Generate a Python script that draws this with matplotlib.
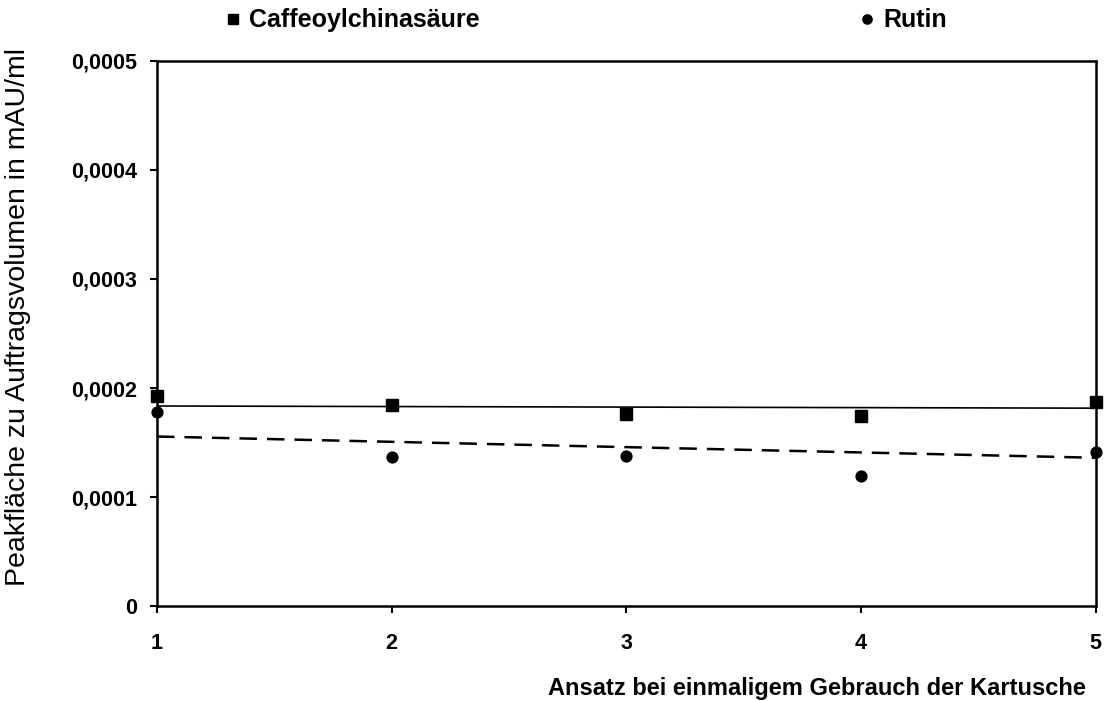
import matplotlib.pyplot as plt
from matplotlib.ticker import FuncFormatter

plt.rcParams["font.family"] = ["Liberation Sans", "DejaVu Sans"]

# data
ansatz = [1, 2, 3, 4, 5]
caffeoyl = [1.93e-4, 1.84e-4, 1.76e-4, 1.74e-4, 1.87e-4]
rutin = [1.78e-4, 1.37e-4, 1.38e-4, 1.19e-4, 1.41e-4]

# trend lines (start / end values as drawn)
trend_x = [1, 5]
trend_caffeoyl = [1.835e-4, 1.815e-4]
trend_rutin = [1.555e-4, 1.36e-4]

y_ticks = [0, 1e-4, 2e-4, 3e-4, 4e-4, 5e-4]


def comma_fmt(v, pos):
    if v == 0:
        return "0"
    return f"{v:.4f}".replace(".", ",")


fig = plt.figure(figsize=(11.07, 7.01), dpi=100)
ax = fig.add_axes([0.1418, 0.1355, 0.848, 0.7775])

ax.plot(trend_x, trend_caffeoyl, color="black", lw=1.2, zorder=2)
ax.plot(trend_x, trend_rutin, color="black", lw=1.8, dashes=(7, 4), zorder=2)
ax.plot(ansatz, caffeoyl, ls="none", marker="s", ms=8.4, color="black",
        label="Caffeoylchinasäure", clip_on=False, zorder=3)
ax.plot(ansatz, rutin, ls="none", marker="o", ms=7.8, color="black",
        label="Rutin", clip_on=False, zorder=3)

ax.set_xlim(1, 5)
ax.set_ylim(0, 5e-4)
ax.set_xticks(ansatz)
ax.set_yticks(y_ticks)
ax.yaxis.set_major_formatter(FuncFormatter(comma_fmt))
ax.tick_params(axis="both", direction="out", length=5, width=1.5,
               labelsize=15.5)
ax.tick_params(axis="x", pad=14.5)
ax.tick_params(axis="y", pad=9.5)
for lbl in ax.get_xticklabels() + ax.get_yticklabels():
    lbl.set_fontweight("bold")
for sp in ax.spines.values():
    sp.set_linewidth(1.8)

ax.set_xlabel("Ansatz bei einmaligem Gebrauch der Kartusche",
              fontsize=17, fontweight="bold", va="top")
ax.xaxis.set_label_coords(0.703, -0.13)
ax.set_ylabel("Peakfläche zu Auftragsvolumen in mAU/ml", fontsize=20.5)
ax.yaxis.set_label_coords(-0.134, 0.53)

fig.legend(loc="upper left", bbox_to_anchor=(0.204, 0.988), ncol=2,
           frameon=False, prop={"weight": "bold", "size": 18},
           borderpad=0, borderaxespad=0,
           handlelength=0.6, handletextpad=0.34, columnspacing=15.2,
           markerscale=0.85)

fig.savefig("out.png", dpi=100)
